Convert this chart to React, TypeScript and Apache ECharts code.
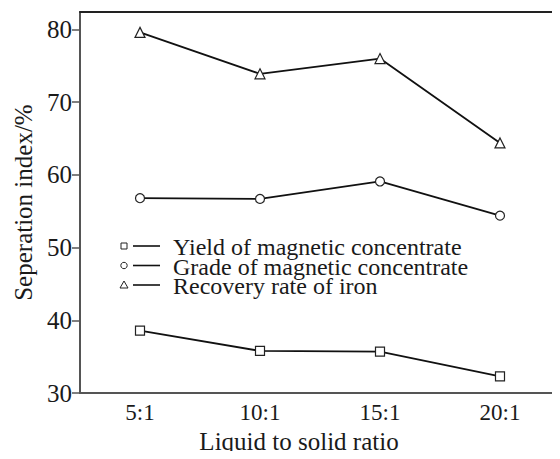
import React, { useEffect, useRef } from "react";
import * as echarts from "echarts";

const categories = ["5:1", "10:1", "15:1", "20:1"];
const seriesNames = [
  "Yield of magnetic concentrate",
  "Grade of magnetic concentrate",
  "Recovery rate of iron",
];
const yieldValues = [38.6, 35.8, 35.7, 32.3];
const gradeValues = [56.8, 56.7, 59.1, 54.4];
const recoveryValues = [79.6, 73.9, 76.0, 64.4];
const yTicks = [30, 40, 50, 60, 70, 80];

const FONT = "'Liberation Serif', 'Times New Roman', serif";

export default function App() {
  const ref = useRef<HTMLDivElement>(null);
  useEffect(() => {
    if (!ref.current) return;
    const chart = echarts.init(ref.current, null, { renderer: "svg" });
    const symbols = ["rect", "circle", "triangle"];
    const sizes = [9, 9, 10];
    const data = [yieldValues, gradeValues, recoveryValues];
    const legendX = 124;
    const legendY0 = 246;
    const legendDy = 19.5;
    const graphic: any[] = [];
    seriesNames.forEach((name, i) => {
      const y = legendY0 + i * legendDy;
      if (i === 0) {
        graphic.push({ type: "rect", shape: { x: legendX - 3, y: y - 3, width: 6, height: 6 }, style: { fill: "#fff", stroke: "#222", lineWidth: 1 } });
      } else if (i === 1) {
        graphic.push({ type: "circle", shape: { cx: legendX, cy: y, r: 3.2 }, style: { fill: "#fff", stroke: "#222", lineWidth: 1 } });
      } else {
        graphic.push({ type: "polygon", shape: { points: [[legendX, y - 4], [legendX - 4, y + 3], [legendX + 4, y + 3]] }, style: { fill: "#fff", stroke: "#222", lineWidth: 1 } });
      }
      graphic.push({ type: "line", shape: { x1: legendX + 9, y1: y, x2: legendX + 36, y2: y }, style: { stroke: "#111", lineWidth: 1.6 } });
      graphic.push({ type: "text", x: legendX + 49, y: y + 1, style: { text: name, font: `24px ${FONT}`, fill: "#1a1a1a", verticalAlign: "middle", align: "left", lineHeight: 19 } });
    });
    chart.setOption({
      animation: false,
      backgroundColor: "#fff",
      grid: { left: 80, top: 12, right: -4, bottom: 57 },
      xAxis: [
        {
          type: "category",
          data: categories,
          boundaryGap: true,
          name: "Liquid to solid ratio",
          nameLocation: "middle",
          nameGap: 30,
          nameTextStyle: { fontFamily: FONT, fontSize: 25, color: "#1a1a1a", padding: [0, 42, 0, 0] },
          axisLine: { lineStyle: { color: "#555", width: 2 } },
          axisTick: { alignWithLabel: true, inside: true, length: 8, lineStyle: { color: "#555", width: 1.5 } },
          axisLabel: { fontFamily: FONT, fontSize: 23, color: "#1a1a1a", margin: 8 },
          splitLine: { show: false },
        },
        {
          type: "category",
          data: categories,
          position: "top",
          axisLine: { lineStyle: { color: "#222", width: 2 } },
          axisTick: { show: false },
          axisLabel: { show: false },
          splitLine: { show: false },
        },
      ],
      yAxis: {
        type: "value",
        min: 30,
        max: 82.4,
        interval: 10,
        name: "Seperation index/%",
        nameLocation: "middle",
        nameGap: 44,
        nameTextStyle: { fontFamily: FONT, fontSize: 25, color: "#1a1a1a" },
        axisLine: { show: true, lineStyle: { color: "#555", width: 2 } },
        axisTick: { show: true, inside: false, length: 8, lineStyle: { color: "#555", width: 1.5 }, customValues: yTicks },
        axisLabel: { fontFamily: FONT, fontSize: 25, color: "#1a1a1a", margin: 8, customValues: yTicks },
        splitLine: { show: false },
      },
      series: seriesNames.map((name, i) => ({
        name,
        type: "line",
        data: data[i],
        symbol: symbols[i],
        symbolSize: sizes[i],
        lineStyle: { color: "#111", width: 1.8 },
        itemStyle: { color: "#fff", borderColor: "#222", borderWidth: 1.2 },
        z: 3,
      })),
      graphic,
    });
    return () => chart.dispose();
  }, []);
  return <div ref={ref} style={{ width: 560, height: 459, margin: -8 }} />;
}
